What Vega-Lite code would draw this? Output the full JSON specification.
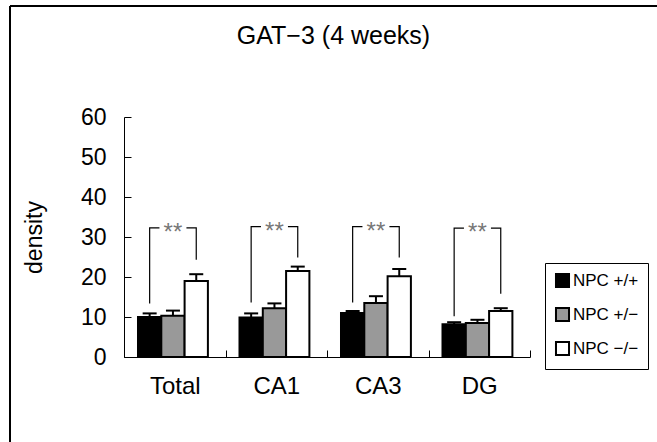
{
  "$schema": "https://vega.github.io/schema/vega-lite/v6.json",
  "width": 647,
  "height": 436,
  "autosize": {"type": "none"},
  "padding": {"left": 10, "top": 6, "right": 0, "bottom": 0},
  "background": "white",
  "title": {"text": "GAT−3 (4 weeks)", "fontSize": 25, "font": "Liberation Sans", "fontWeight": "normal", "color": "black", "anchor": "middle", "frame": "group", "baseline": "alphabetic", "offset": -63},
  "config": {
    "font": "Liberation Sans",
    "view": {"stroke": "black", "strokeWidth": 2, "strokeDash": [647, 1083, 436, 0]},
    "axis": {"grid": false, "domainColor": "black", "tickColor": "black", "labelColor": "black", "titleColor": "black", "labelFont": "Liberation Sans", "titleFont": "Liberation Sans", "titleFontWeight": "normal"}
  },
  "datasets": {
    "bars": [
      {"cat": "Total", "geno": "NPC +/+", "mean": 10.0, "upper": 10.9},
      {"cat": "Total", "geno": "NPC +/−", "mean": 10.3, "upper": 11.6},
      {"cat": "Total", "geno": "NPC −/−", "mean": 19.0, "upper": 20.7},
      {"cat": "CA1", "geno": "NPC +/+", "mean": 9.9, "upper": 10.9},
      {"cat": "CA1", "geno": "NPC +/−", "mean": 12.2, "upper": 13.4},
      {"cat": "CA1", "geno": "NPC −/−", "mean": 21.5, "upper": 22.6},
      {"cat": "CA3", "geno": "NPC +/+", "mean": 11.0, "upper": 11.5},
      {"cat": "CA3", "geno": "NPC +/−", "mean": 13.5, "upper": 15.2},
      {"cat": "CA3", "geno": "NPC −/−", "mean": 20.2, "upper": 22.0},
      {"cat": "DG", "geno": "NPC +/+", "mean": 8.2, "upper": 8.7},
      {"cat": "DG", "geno": "NPC +/−", "mean": 8.5, "upper": 9.3},
      {"cat": "DG", "geno": "NPC −/−", "mean": 11.5, "upper": 12.2}
    ],
    "brackets": [
      {"cat": "Total", "geno": "NPC +/+", "v": 13.4, "ord": 1},
      {"cat": "Total", "geno": "NPC +/+", "v": 32.3, "ord": 2},
      {"cat": "Total", "geno": "NPC −/−", "v": 32.3, "ord": 3},
      {"cat": "Total", "geno": "NPC −/−", "v": 24.3, "ord": 4},
      {"cat": "CA1", "geno": "NPC +/+", "v": 13.6, "ord": 1},
      {"cat": "CA1", "geno": "NPC +/+", "v": 32.6, "ord": 2},
      {"cat": "CA1", "geno": "NPC −/−", "v": 32.6, "ord": 3},
      {"cat": "CA1", "geno": "NPC −/−", "v": 24.9, "ord": 4},
      {"cat": "CA3", "geno": "NPC +/+", "v": 13.6, "ord": 1},
      {"cat": "CA3", "geno": "NPC +/+", "v": 32.6, "ord": 2},
      {"cat": "CA3", "geno": "NPC −/−", "v": 32.6, "ord": 3},
      {"cat": "CA3", "geno": "NPC −/−", "v": 24.9, "ord": 4},
      {"cat": "DG", "geno": "NPC +/+", "v": 10.2, "ord": 1},
      {"cat": "DG", "geno": "NPC +/+", "v": 32.2, "ord": 2},
      {"cat": "DG", "geno": "NPC −/−", "v": 32.2, "ord": 3},
      {"cat": "DG", "geno": "NPC −/−", "v": 15.8, "ord": 4}
    ],
    "sig": [
      {"cat": "Total", "geno": "NPC +/−", "top": 32.3, "label": "**"},
      {"cat": "CA1", "geno": "NPC +/−", "top": 32.6, "label": "**"},
      {"cat": "CA3", "geno": "NPC +/−", "top": 32.6, "label": "**"},
      {"cat": "DG", "geno": "NPC +/−", "top": 32.2, "label": "**"}
    ]
  },
  "encoding": {
    "x": {"field": "cat", "type": "nominal", "sort": ["Total", "CA1", "CA3", "DG"],
      "scale": {"range": [114, 520], "paddingInner": 0, "paddingOuter": 0},
      "axis": {"title": null, "orient": "bottom", "offset": -85, "labelAngle": 0, "tickBand": "extent", "tickSize": -7, "labelPadding": 24, "labelFontSize": 24, "domainWidth": 1, "tickWidth": 1}},
    "xOffset": {"field": "geno", "type": "nominal", "sort": ["NPC +/+", "NPC +/−", "NPC −/−"],
      "scale": {"paddingInner": 0, "paddingOuter": 0.678, "align": 0.443}}
  },
  "layer": [
    {
      "data": {"name": "bars"},
      "mark": {"type": "bar", "stroke": "black", "strokeWidth": 2},
      "encoding": {
        "y": {"field": "mean", "type": "quantitative", "title": "density",
          "scale": {"domain": [0, 60], "range": [351, 111], "nice": false, "zero": true},
          "axis": {"title": "density", "values": [0, 10, 20, 30, 40, 50, 60], "offset": -114, "tickSize": -7, "labelPadding": 25, "labelFontSize": 23, "titleFontSize": 23, "titlePadding": 34, "domainWidth": 1, "tickWidth": 1}},
        "color": {"field": "geno", "type": "nominal", "sort": ["NPC +/+", "NPC +/−", "NPC −/−"],
          "scale": {"domain": ["NPC +/+", "NPC +/−", "NPC −/−"], "range": ["black", "#999999", "white"]},
          "legend": {"title": null, "orient": "none", "legendX": 535, "legendY": 257, "strokeColor": "black", "padding": 9, "symbolType": "square", "symbolSize": 170, "symbolStrokeColor": "black", "symbolStrokeWidth": 2, "symbolOpacity": 1, "labelFontSize": 17, "labelColor": "black", "labelOffset": 2, "rowPadding": 11}}
      }
    },
    {
      "data": {"name": "bars"},
      "mark": {"type": "rule", "color": "black", "strokeWidth": 2},
      "encoding": {
        "y": {"field": "mean", "type": "quantitative", "title": "density"},
        "y2": {"field": "upper"}
      }
    },
    {
      "data": {"name": "bars"},
      "mark": {"type": "tick", "orient": "horizontal", "color": "black", "size": 14, "thickness": 2, "opacity": 1},
      "encoding": {
        "y": {"field": "upper", "type": "quantitative", "title": "density"}
      }
    },
    {
      "data": {"name": "brackets"},
      "mark": {"type": "line", "color": "black", "strokeWidth": 1.2},
      "encoding": {
        "y": {"field": "v", "type": "quantitative", "title": "density"},
        "order": {"field": "ord", "type": "quantitative"},
        "detail": {"field": "cat", "type": "nominal"}
      }
    },
    {
      "data": {"name": "sig"},
      "mark": {"type": "tick", "orient": "horizontal", "color": "white", "size": 27, "thickness": 5, "opacity": 1},
      "encoding": {
        "y": {"field": "top", "type": "quantitative", "title": "density"}
      }
    },
    {
      "data": {"name": "sig"},
      "mark": {"type": "text", "fontSize": 24, "color": "#777777", "baseline": "alphabetic", "align": "center", "dy": 12},
      "encoding": {
        "y": {"field": "top", "type": "quantitative", "title": "density"},
        "text": {"field": "label"}
      }
    }
  ]
}
